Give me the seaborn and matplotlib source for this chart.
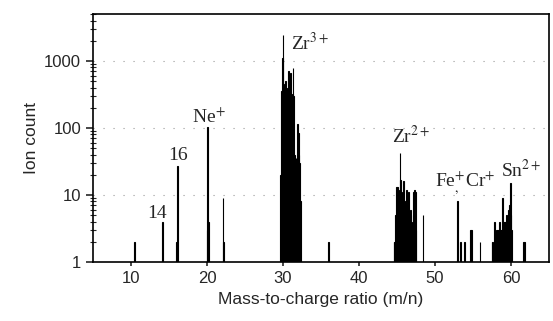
import numpy as np
import pandas as pd
import matplotlib
matplotlib.use('Agg')
import matplotlib.pyplot as plt
import seaborn as sns

# isolated light peaks (m/n, counts)
mz_light = [10.5, 14.2, 16.0, 16.1, 20.0, 20.1, 20.2, 22.1, 22.2, 36.0]
cnt_light = [2, 4, 2, 27, 3, 105, 4, 9, 2, 2]

# Zr3+ cluster
mz_zr3 = [29.7, 29.8, 29.9, 30.0, 30.1, 30.2, 30.3, 30.4, 30.5, 30.6, 30.7, 30.8, 30.9,
          31.0, 31.1, 31.2, 31.3, 31.4, 31.5, 31.6, 31.7, 31.8, 31.9, 32.0, 32.1, 32.2, 32.3]
cnt_zr3 = [20, 350, 1100, 2450, 450, 380, 500, 350, 120, 400, 700, 250, 90,
           660, 150, 320, 790, 300, 40, 33, 35, 33, 115, 84, 40, 30, 8]

# Zr2+ cluster
mz_zr2 = [44.6, 44.7, 44.8, 44.9, 45.0, 45.1, 45.2, 45.3, 45.4, 45.5, 45.6, 45.7, 45.8,
          45.9, 46.0, 46.1, 46.2, 46.3, 46.4, 46.5, 46.6, 46.7, 46.8, 46.9, 47.0, 47.1,
          47.2, 47.3, 47.4, 47.5, 48.4]
cnt_zr2 = [2, 2, 5, 13, 10, 13, 9, 12, 43, 17, 11, 8, 16,
           7, 8, 6, 12, 5, 7, 11, 5, 4, 6, 4, 3, 5,
           11, 12, 11, 3, 5]

# Fe+, Cr+ and Sn2+ region
mz_heavy = [52.9, 53.3, 53.9, 54.7, 54.8, 55.9, 57.5, 57.6, 57.8,
            58.1, 58.2, 58.3, 58.4, 58.5, 58.6, 58.7, 58.8, 58.9, 59.0, 59.1, 59.2,
            59.3, 59.4, 59.5, 59.6, 59.7, 59.8, 59.9, 60.0, 60.1, 61.6, 61.7, 61.8]
cnt_heavy = [8, 2, 2, 3, 3, 2, 2, 2, 4,
             3, 3, 3, 3, 4, 3, 3, 3, 9, 4, 4, 4,
             4, 5, 4, 5, 6, 7, 15, 5, 3, 2, 2, 2]

df = pd.DataFrame({
    'mz': mz_light + mz_zr3 + mz_zr2 + mz_heavy,
    'count': cnt_light + cnt_zr3 + cnt_zr2 + cnt_heavy,
})

sns.set_style('ticks')
plt.rcParams['font.family'] = ['Liberation Sans', 'DejaVu Sans']
plt.rcParams['mathtext.fontset'] = 'stix'

fig, ax = plt.subplots(figsize=(5.53, 3.21), dpi=100)
fig.subplots_adjust(left=0.168, right=0.993, bottom=0.184, top=0.956)

sns.histplot(data=df, x='mz', weights='count', binwidth=0.1, binrange=(4.95, 65.05),
             color='black', edgecolor='black', linewidth=0.8, alpha=1, ax=ax)

ax.set_yscale('log')
ax.set_ylim(1, 5000)
ax.set_xlim(5, 65)
ax.set_yticks([1, 10, 100, 1000])
ax.set_yticklabels(['1', '10', '100', '1000'])
ax.set_xticks([10, 20, 30, 40, 50, 60])
ax.yaxis.grid(True, which='major', linestyle=(0, (1, 8)), linewidth=0.8, color='0.6')
ax.set_axisbelow(True)

for s in ax.spines.values():
    s.set_visible(True)
    s.set_linewidth(1.2)
    s.set_color('black')

ax.tick_params(axis='y', which='major', direction='out', length=5, width=1.2, labelsize=12)
ax.tick_params(axis='y', which='minor', direction='inout', length=4, width=0.8)
ax.tick_params(axis='x', which='major', direction='out', length=3, width=1.2, labelsize=12)

ax.set_xlabel('Mass-to-charge ratio (m/n)', fontsize=12.5)
ax.set_ylabel('Ion count', fontsize=12.5)

serif = ['Liberation Serif', 'DejaVu Serif']
ax.text(31.05, 1450, 'Zr$^{3+}$', ha='left', va='baseline', fontsize=14, family=serif)
ax.text(20.2, 118, 'Ne$^{+}$', ha='center', va='baseline', fontsize=14, family=serif)
ax.text(16.15, 33, '16', ha='center', va='baseline', fontsize=14, family=serif)
ax.text(13.4, 4.6, '14', ha='center', va='baseline', fontsize=14, family=serif)
ax.text(44.4, 60, 'Zr$^{2+}$', ha='left', va='baseline', fontsize=14, family=serif)
ax.text(50.0, 12.7, 'Fe$^{+}_{,}$Cr$^{+}$', ha='left', va='baseline', fontsize=14, family=serif)
ax.text(58.7, 18.6, 'Sn$^{2+}$', ha='left', va='baseline', fontsize=14, family=serif)

fig.savefig('out.png', dpi=100)
